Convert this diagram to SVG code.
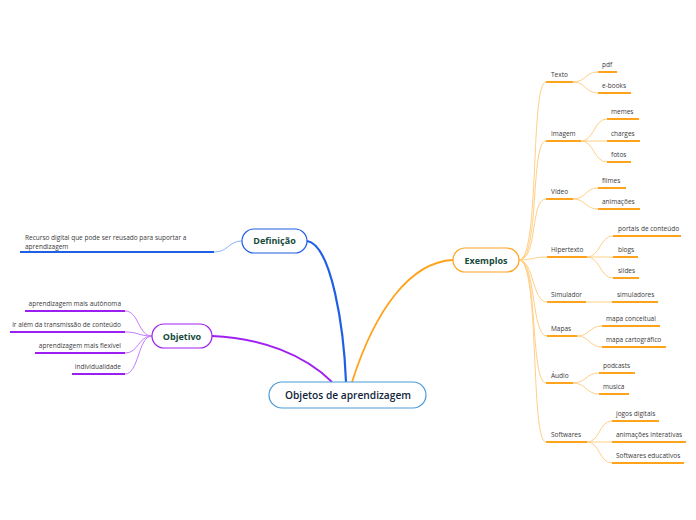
<svg xmlns="http://www.w3.org/2000/svg" width="696" height="520" viewBox="0 0 696 520">
<style>
.lbl{font-family:"Open Sans","Noto Sans",sans-serif;font-size:6.5px;fill:#3a3a3a}
.end{text-anchor:end}
.node{font-family:"Open Sans","Noto Sans",sans-serif;font-size:9px;font-weight:bold;fill:#154a3b;text-anchor:middle}
.main{font-family:"Open Sans","Noto Sans",sans-serif;font-size:11px;font-weight:600;fill:#0f1f3d;text-anchor:middle}
.c{fill:none}
.o{stroke:#ffcf85;stroke-width:1}
.ou{stroke:#ffa21c;stroke-width:2}
.p{stroke:#c47bff;stroke-width:1}
.pu{stroke:#9b1ff0;stroke-width:2}
.b{stroke:#8fb0ff;stroke-width:1}
.bu{stroke:#1f5fe6;stroke-width:2}
</style>
<rect width="696" height="520" fill="#fff"/>
<g id="connectors" class="c">
  <path d="M346,382 C344,330 332,245 307,241" stroke="#1f5fe6" stroke-width="2.2"/>
  <path d="M352,382 C375,310 410,262 453,260" stroke="#ffa21c" stroke-width="1.8"/>
  <path d="M332,382 C305,355 262,338 212,336" stroke="#a020f0" stroke-width="1.8"/>
  <path class="b" d="M242,241 C228,241 229,252 214,252"/>
  <path class="bu" d="M214,252 H20"/>
  <path class="p" d="M152,336 C138,336 139,311 125,311"/>
  <path class="p" d="M152,336 C138,336 139,332 125,332"/>
  <path class="p" d="M152,336 C138,336 139,353 125,353"/>
  <path class="p" d="M152,336 C138,336 139,374 125,374"/>
  <path class="pu" d="M125,311 H25 M125,332 H10 M125,353 H35 M125,374 H72"/>
  <path class="o" d="M519,260 C540,260 530,82 546,82"/>
  <path class="o" d="M519,260 C540,260 530,141 546,141"/>
  <path class="o" d="M519,260 C538,260 530,199 546,199"/>
  <path class="o" d="M519,260 C532,260 533,257 547,257"/>
  <path class="o" d="M519,260 C534,260 532,302 547,302"/>
  <path class="o" d="M519,260 C536,260 531,336 547,336"/>
  <path class="o" d="M519,260 C538,260 530,383 546,383"/>
  <path class="o" d="M519,260 C540,260 530,442 546,442"/>
  <path class="ou" d="M546,82 H573 M546,141 H581 M546,199 H573 M547,257 H587 M547,302 H586 M547,336 H577 M546,383 H573 M546,442 H587"/>
  <path class="o" d="M573,82 C586,82 585,72 598,72 M573,82 C586,82 585,93 598,93"/>
  <path class="o" d="M581,141 C594,141 594,119 607,119 M581,141 H607 M581,141 C594,141 594,162 607,162"/>
  <path class="o" d="M573,199 C586,199 585,188 598,188 M573,199 C586,199 585,209 598,209"/>
  <path class="o" d="M587,257 C600,257 600,236 613,236 M587,257 H613 M587,257 C600,257 600,278 613,278"/>
  <path class="o" d="M586,302 H612"/>
  <path class="o" d="M577,336 C590,336 589,326 602,326 M577,336 C590,336 589,347 602,347"/>
  <path class="o" d="M573,383 C586,383 586,373 599,373 M573,383 C586,383 586,394 599,394"/>
  <path class="o" d="M587,442 C600,442 599,421 612,421 M587,442 H612 M587,442 C600,442 599,463 612,463"/>
  <path class="ou" d="M598,72 H617 M598,93 H631 M607,119 H639 M607,141 H640 M607,162 H631 M598,188 H626 M598,209 H640 M613,236 H681 M613,257 H638 M613,278 H639 M612,302 H658 M602,326 H660 M602,347 H666 M599,373 H635 M599,394 H629 M612,421 H659 M612,442 H686 M612,463 H684"/>
</g>
<g id="central">
  <rect x="269" y="382" width="157" height="26" rx="13" fill="#fff" stroke="#4a9ad8" stroke-width="1.2"/>
  <text class="main" x="348" y="399" textLength="126" lengthAdjust="spacingAndGlyphs">Objetos de aprendizagem</text>
</g>
<g id="definicao">
  <rect x="242" y="229" width="65" height="24" rx="12" fill="#fff" stroke="#1f5fe6" stroke-width="1.2"/>
  <text class="node" x="274.5" y="244">Definição</text>
</g>
<g id="definicao-texto">
  <text class="lbl" x="25" y="240">Recurso digital que pode ser reusado para suportar a</text>
  <text class="lbl" x="25" y="248.5">aprendizagem</text>
</g>
<g id="objetivo">
  <rect x="152" y="324" width="60" height="24" rx="12" fill="#fff" stroke="#a020f0" stroke-width="1.2"/>
  <text class="node" x="182" y="339.5">Objetivo</text>
</g>
<g id="objetivo-filhos">
  <text class="lbl end" x="121" y="306">aprendizagem mais autônoma</text>
  <text class="lbl end" x="121" y="327">ir além da transmissão de conteúdo</text>
  <text class="lbl end" x="121" y="348">aprendizagem mais flexível</text>
  <text class="lbl end" x="121" y="369">individualidade</text>
</g>
<g id="exemplos">
  <rect x="453" y="248" width="66" height="24" rx="12" fill="#fff" stroke="#ffa21c" stroke-width="1.2"/>
  <text class="node" x="486" y="263.5">Exemplos</text>
</g>
<g id="categorias">
  <text class="lbl" x="551" y="77">Texto</text>
  <text class="lbl" x="551" y="136">Imagem</text>
  <text class="lbl" x="551" y="194">Vídeo</text>
  <text class="lbl" x="551" y="252">Hipertexto</text>
  <text class="lbl" x="551" y="297">Simulador</text>
  <text class="lbl" x="551" y="331">Mapas</text>
  <text class="lbl" x="551" y="378">Áudio</text>
  <text class="lbl" x="551" y="437">Softwares</text>
</g>
<g id="itens">
  <text class="lbl" x="602" y="67">pdf</text>
  <text class="lbl" x="602" y="88">e-books</text>
  <text class="lbl" x="611" y="114">memes</text>
  <text class="lbl" x="611" y="136">charges</text>
  <text class="lbl" x="611" y="157">fotos</text>
  <text class="lbl" x="602" y="183">filmes</text>
  <text class="lbl" x="602" y="204">animações</text>
  <text class="lbl" x="618" y="231">portais de conteúdo</text>
  <text class="lbl" x="618" y="252">blogs</text>
  <text class="lbl" x="618" y="273">slides</text>
  <text class="lbl" x="617" y="297">simuladores</text>
  <text class="lbl" x="606" y="321">mapa conceitual</text>
  <text class="lbl" x="606" y="342">mapa cartográfico</text>
  <text class="lbl" x="603" y="368">podcasts</text>
  <text class="lbl" x="603" y="389">musica</text>
  <text class="lbl" x="616" y="416">jogos digitais</text>
  <text class="lbl" x="616" y="437">animações interativas</text>
  <text class="lbl" x="616" y="458">Softwares educativos</text>
</g>
</svg>
